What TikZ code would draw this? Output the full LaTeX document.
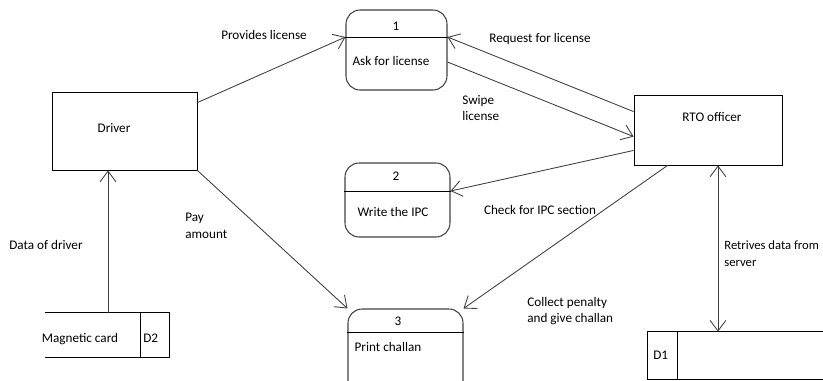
\documentclass[tikz,border=0pt]{standalone}
\usepackage{fontspec}
\setmainfont{Carlito}
\usetikzlibrary{arrows.meta}

\tikzset{
  box/.style={draw, line width=0.5pt, inner sep=0pt},
  proc/.style={draw=black!75, line width=0.6pt, rounded corners=0.28cm, inner sep=0pt},
  store/.style={inner sep=0pt},
  flow/.style={draw=black!75, line width=0.5pt, -{Straight Barb[length=6pt,width=9pt]}},
  lbl/.style={font=\fontsize{7.5}{9.6}\selectfont, inner sep=0pt},
}

\begin{document}
\begin{tikzpicture}[x=0.02cm,y=-0.02cm]
    \useasboundingbox (0,0) rectangle (823,380);
    \clip (0,0) rectangle (823,380);

    % Entities
    \node [box, minimum width=2.9cm, minimum height=1.56cm] (driver) at (124.5,131) {};
    \node [box, minimum width=2.96cm, minimum height=1.4cm] (rto) at (708,130) {};
    \node [lbl] at (114,128) {Driver};
    \node [lbl] at (712,117) {RTO officer};

    % Processes
    \coordinate (l1) at (0,37);
    \coordinate (l2) at (0,191);
    \coordinate (l3) at (0,332);
    \node [proc, minimum width=2.02cm, minimum height=1.6cm] (p1) at (396.5,50) {};
    \node [proc, minimum width=2.1cm, minimum height=1.48cm] (p2) at (397.5,200) {};
    \node [proc, minimum width=2.3cm, minimum height=1.72cm] (p3) at (405.5,352) {};
    \draw [line width=0.5pt] (p1.west |- l1) -- (p1.east |- l1);
    \draw [line width=0.5pt] (p2.west |- l2) -- (p2.east |- l2);
    \draw [line width=0.5pt] (p3.west |- l3) -- (p3.east |- l3);
    \node [lbl] at (396,26) {1};
    \node [lbl] at (391,61) {Ask for license};
    \node [lbl] at (396,176) {2};
    \node [lbl] at (393,212) {Write the IPC};
    \node [lbl] at (398,321) {3};
    \node [lbl] at (388,347) {Print challan};

    % Data stores
    \node [store, minimum width=2.48cm, minimum height=0.88cm] (d2) at (107,335) {};
    \draw [line width=0.5pt] (d2.north west) -- (d2.north east) -- (d2.south east) -- (d2.south west);
    \draw [line width=0.5pt] ([xshift=-0.58cm]d2.north east) -- ([xshift=-0.58cm]d2.south east);
    \node [lbl] at (80,339) {Magnetic card};
    \node [lbl, anchor=west] at (143,338) {D2};

    \node [store, minimum width=4cm, minimum height=0.94cm] (d1) at (748,355.5) {};
    \draw [line width=0.5pt] (d1.north east) -- (d1.north west) -- (d1.south west) -- (d1.south east);
    \draw [line width=0.5pt] ([xshift=0.6cm]d1.north west) -- ([xshift=0.6cm]d1.south west);
    \node [lbl, anchor=west] at (653,355) {D1};

    % Flows
    \draw [flow] ([yshift=-0.22cm]driver.north east) -- (p1.west |- l1);
    \draw [flow] ([yshift=-0.34cm]rto.north west) -- (p1.east |- l1);
    \draw [flow] ([yshift=-0.24cm]p1.east) -- ([yshift=-0.84cm]rto.north west);
    \draw [flow] ([yshift=0.3cm]rto.south west) -- (p2.east |- l2);
    \draw [flow] ([xshift=0.68cm]rto.south west) -- (p3.north east);
    \draw [flow] (driver.south east) -- (p3.north west);
    \coordinate (dd) at ([xshift=-0.33cm]driver.south);
    \draw [flow] (dd |- d2.north) -- (dd);
    \coordinate (rd) at ([xshift=0.2cm]rto.south);
    \draw [flow, {Straight Barb[length=6pt,width=9pt]}-{Straight Barb[length=6pt,width=9pt]}] (rd) -- (rd |- d1.north);

    % Flow labels
    \node [lbl] at (264,35) {Provides license};
    \node [lbl] at (540,39) {Request for license};
    \node [lbl, anchor=west, align=left] at (462,108) {Swipe\\license};
    \node [lbl] at (540,210) {Check for IPC section};
    \node [lbl, anchor=west, align=left] at (527,311) {Collect penalty\\and give challan};
    \node [lbl, anchor=west, align=left] at (185,226) {Pay\\amount};
    \node [lbl] at (46,245) {Data of driver};
    \node [lbl, anchor=west, align=left, font=\fontsize{7.2}{9.6}\selectfont] at (724,254) {Retrives data from\\server};
\end{tikzpicture}
\end{document}
